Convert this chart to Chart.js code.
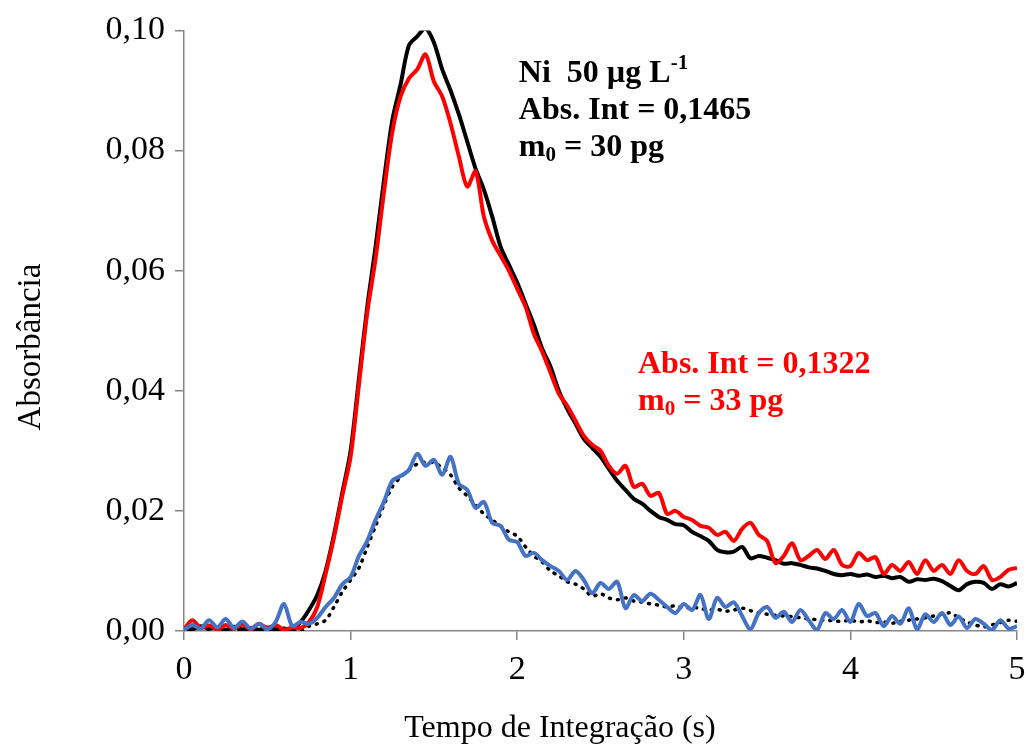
<!DOCTYPE html>
<html>
<head>
<meta charset="utf-8">
<script src="https://cdn.jsdelivr.net/npm/chart.js@4/dist/chart.umd.min.js"></script>
<style>
  html, body { margin: 0; padding: 0; background: #fff; }
  #wrap { width: 1026px; height: 744px; }
</style>
</head>
<body>
<div id="wrap"><canvas id="chart" width="1026" height="744"></canvas></div>
<script>
// --- Data ---
const tempo = [
  0.00, 0.05, 0.10, 0.15, 0.20, 0.25, 0.30, 0.35, 0.40, 0.45,
  0.50, 0.55, 0.60, 0.65, 0.70, 0.75, 0.80, 0.85, 0.90, 0.95,
  1.00, 1.05, 1.10, 1.15, 1.20, 1.25, 1.30, 1.35, 1.40, 1.45,
  1.50, 1.55, 1.60, 1.65, 1.70, 1.75, 1.80, 1.85, 1.90, 1.95,
  2.00, 2.05, 2.10, 2.15, 2.20, 2.25, 2.30, 2.35, 2.40, 2.45,
  2.50, 2.55, 2.60, 2.65, 2.70, 2.75, 2.80, 2.85, 2.90, 2.95,
  3.00, 3.05, 3.10, 3.15, 3.20, 3.25, 3.30, 3.35, 3.40, 3.45,
  3.50, 3.55, 3.60, 3.65, 3.70, 3.75, 3.80, 3.85, 3.90, 3.95,
  4.00, 4.05, 4.10, 4.15, 4.20, 4.25, 4.30, 4.35, 4.40, 4.45,
  4.50, 4.55, 4.60, 4.65, 4.70, 4.75, 4.80, 4.85, 4.90, 4.95,
  5.00
];

// Ni 50 ug/L standard (black)
const padraoNi = [
  0.0005, 0.0003, 0.0008, 0.0004, 0.0006, 0.0002, 0.0007, 0.0003, 0.0005, 0.0002,
  0.0006, 0.0003, 0.0004, 0.0002, 0.0015, 0.0035, 0.0060, 0.0100, 0.0160, 0.0230,
  0.0300, 0.0420, 0.0540, 0.0640, 0.0750, 0.0850, 0.0910, 0.0975, 0.0990, 0.1003,
  0.0980, 0.0935, 0.0900, 0.0860, 0.0815, 0.0770, 0.0735, 0.0690, 0.0640, 0.0610,
  0.0580, 0.0545, 0.0510, 0.0470, 0.0440, 0.0400, 0.0370, 0.0345, 0.0320, 0.0305,
  0.0290, 0.0270, 0.0250, 0.0235, 0.0220, 0.0212, 0.0200, 0.0190, 0.0185, 0.0178,
  0.0176, 0.0165, 0.0158, 0.0150, 0.0135, 0.0131, 0.0132, 0.0140, 0.0121, 0.0125,
  0.0122, 0.0118, 0.0112, 0.0113, 0.0110, 0.0106, 0.0104, 0.0100, 0.0095, 0.0093,
  0.0095, 0.0092, 0.0094, 0.0090, 0.0092, 0.0088, 0.0090, 0.0082, 0.0086, 0.0085,
  0.0087, 0.0083, 0.0075, 0.0068, 0.0078, 0.0082, 0.0080, 0.0070, 0.0078, 0.0074,
  0.0080
];

// sample spiked (red)
const amostraAdicao = [
  0.0003, 0.0018, 0.0005, 0.0009, 0.0003, 0.0010, 0.0004, 0.0011, 0.0003, 0.0012,
  0.0005, 0.0010, 0.0002, 0.0006, 0.0005, 0.0015, 0.0040, 0.0095, 0.0155, 0.0225,
  0.0290, 0.0410, 0.0530, 0.0620, 0.0730, 0.0830, 0.0890, 0.0920, 0.0935, 0.0960,
  0.0915, 0.0890, 0.0845, 0.0790, 0.0740, 0.0765, 0.0690, 0.0650, 0.0625, 0.0600,
  0.0570, 0.0540, 0.0495, 0.0465, 0.0430, 0.0395, 0.0375, 0.0350, 0.0325, 0.0310,
  0.0300, 0.0275, 0.0262, 0.0275, 0.0240, 0.0245, 0.0225, 0.0230, 0.0195, 0.0200,
  0.0190, 0.0185, 0.0175, 0.0172, 0.0160, 0.0165, 0.0150, 0.0170, 0.0180, 0.0160,
  0.0150, 0.0113, 0.0125, 0.0146, 0.0118, 0.0125, 0.0135, 0.0120, 0.0135, 0.0110,
  0.0108, 0.0130, 0.0118, 0.0123, 0.0095, 0.0110, 0.0100, 0.0115, 0.0095, 0.0118,
  0.0100, 0.0110, 0.0095, 0.0118, 0.0100, 0.0095, 0.0108, 0.0085, 0.0090, 0.0102,
  0.0105
];

// sample (blue)
const amostra = [
  0.0002, 0.0010, 0.0004, 0.0018, 0.0006, 0.0020, 0.0005, 0.0016, 0.0004, 0.0012,
  0.0003, 0.0015, 0.0045, 0.0008, 0.0015, 0.0012, 0.0022, 0.0040, 0.0055, 0.0078,
  0.0090, 0.0125, 0.0150, 0.0185, 0.0215, 0.0250, 0.0258, 0.0268, 0.0295, 0.0275,
  0.0285, 0.0260, 0.0290, 0.0245, 0.0235, 0.0205, 0.0215, 0.0180, 0.0175, 0.0152,
  0.0148, 0.0125, 0.0130, 0.0118, 0.0108, 0.0100, 0.0085, 0.0100, 0.0085, 0.0063,
  0.0080, 0.0070, 0.0082, 0.0038, 0.0060, 0.0050, 0.0062, 0.0052, 0.0040, 0.0030,
  0.0045, 0.0035, 0.0060, 0.0020, 0.0055, 0.0040, 0.0048, 0.0025, 0.0003, 0.0030,
  0.0040, 0.0022, 0.0032, 0.0015, 0.0035, 0.0018, 0.0002, 0.0030, 0.0020, 0.0035,
  0.0015, 0.0045, 0.0025, 0.0030, 0.0008, 0.0025, 0.0012, 0.0038, 0.0003, 0.0028,
  0.0015, 0.0030, 0.0010, 0.0024, 0.0005, 0.0020, 0.0012, 0.0002, 0.0018, 0.0004,
  0.0008
];

// reference profile (black dotted)
const perfilRef = [
  0.0004, 0.0002, 0.0006, 0.0003, 0.0005, 0.0002, 0.0004, 0.0001, 0.0005, 0.0002,
  0.0004, 0.0001, 0.0003, 0.0001, 0.0000, 0.0008, 0.0012, 0.0018, 0.0040, 0.0065,
  0.0085, 0.0105, 0.0140, 0.0175, 0.0210, 0.0240, 0.0256, 0.0268, 0.0278, 0.0281,
  0.0280, 0.0272, 0.0260, 0.0238, 0.0225, 0.0210, 0.0195, 0.0185, 0.0175, 0.0165,
  0.0158, 0.0140, 0.0125, 0.0115, 0.0100, 0.0092, 0.0082, 0.0078, 0.0070, 0.0058,
  0.0062, 0.0055, 0.0052, 0.0055, 0.0050, 0.0048, 0.0045, 0.0043, 0.0040, 0.0042,
  0.0038, 0.0040, 0.0037, 0.0035, 0.0036, 0.0033, 0.0035, 0.0038, 0.0034, 0.0030,
  0.0028, 0.0026, 0.0025, 0.0024, 0.0022, 0.0020, 0.0019, 0.0018, 0.0017, 0.0016,
  0.0018, 0.0015, 0.0017, 0.0014, 0.0015, 0.0013, 0.0016, 0.0018, 0.0020, 0.0022,
  0.0025, 0.0028, 0.0030, 0.0022, 0.0015, 0.0010, 0.0007, 0.0010, 0.0014, 0.0018,
  0.0016
];

const xTicks = [0, 1, 2, 3, 4, 5];
const yTicks = [0, 0.02, 0.04, 0.06, 0.08, 0.10];

const FONT = "'Liberation Serif', 'Times New Roman', serif";
const AXIS_GREY = '#868686';

function pontos(valores) {
    return tempo.map((t, i) => ({ x: t, y: valores[i] }));
}

// --- Annotations + axis titles ---
const textPlugin = {
    id: 'chartText',
    afterDraw(chart) {
        const { ctx, scales } = chart;
        ctx.save();
        ctx.textBaseline = 'middle';
        ctx.textAlign = 'left';

        // draws a line made of normal / sup / sub parts
        function rich(x, y, parts, color) {
            ctx.fillStyle = color;
            let cx = x;
            parts.forEach(p => {
                if (p.s === 'sup') {
                    ctx.font = `bold 21px ${FONT}`;
                    ctx.fillText(p.t, cx, y - 10);
                } else if (p.s === 'sub') {
                    ctx.font = `bold 21px ${FONT}`;
                    ctx.fillText(p.t, cx, y + 8);
                } else {
                    ctx.font = `bold 32px ${FONT}`;
                    ctx.fillText(p.t, cx, y);
                }
                cx += ctx.measureText(p.t).width;
            });
        }

        const bx = scales.x.getPixelForValue(2.01);
        const by = scales.y.getPixelForValue(0.0928);
        rich(bx, by, [{ t: 'Ni  50 µg L' }, { t: '-1', s: 'sup' }], '#000');
        rich(bx, by + 37, [{ t: 'Abs. Int = 0,1465' }], '#000');
        rich(bx, by + 74, [{ t: 'm' }, { t: '0', s: 'sub' }, { t: ' = 30 pg' }], '#000');

        const rx = scales.x.getPixelForValue(2.725);
        const ry = scales.y.getPixelForValue(0.0443);
        rich(rx, ry, [{ t: 'Abs. Int = 0,1322' }], '#ff0000');
        rich(rx, ry + 37, [{ t: 'm' }, { t: '0', s: 'sub' }, { t: ' = 33 pg' }], '#ff0000');

        // x axis title (sits left of centre in the original)
        ctx.fillStyle = '#000';
        ctx.textAlign = 'center';
        ctx.textBaseline = 'alphabetic';
        ctx.font = `32px ${FONT}`;
        ctx.fillText('Tempo de Integração (s)', 560, 737);

        // y axis title
        ctx.textBaseline = 'middle';
        ctx.translate(31, 347);
        ctx.rotate(-Math.PI / 2);
        ctx.font = `33px ${FONT}`;
        ctx.fillText('Absorbância', 0, 0);
        ctx.restore();
    }
};

new Chart(document.getElementById('chart'), {
    type: 'line',
    data: {
        datasets: [
            {
                label: 'Amostra',
                data: pontos(amostra),
                borderColor: '#4472c4',
                borderWidth: 4,
                tension: 0.3
            },
            {
                label: 'Amostra + adição',
                data: pontos(amostraAdicao),
                borderColor: '#ff0000',
                borderWidth: 4,
                tension: 0.3
            },
            {
                label: 'Ni 50 µg/L',
                data: pontos(padraoNi),
                borderColor: '#000000',
                borderWidth: 4,
                tension: 0.3
            },
            {
                label: 'Perfil',
                data: pontos(perfilRef),
                borderColor: '#000000',
                borderWidth: 3.5,
                borderDash: [1, 7],
                borderCapStyle: 'round',
                tension: 0.3
            }
        ]
    },
    options: {
        responsive: false,
        animation: false,
        events: [],
        elements: { point: { radius: 0 } },
        layout: { padding: { top: 30, right: 0, left: 0, bottom: 0 } },
        scales: {
            x: {
                type: 'linear',
                min: 0,
                max: 5,
                afterBuildTicks: s => { s.ticks = xTicks.map(v => ({ value: v })); },
                afterFit: s => {
                    s.height = 113;
                    s.paddingLeft = 0;
                    s.paddingRight = 9;
                },
                ticks: {
                    color: '#000',
                    font: { family: FONT, size: 34 },
                    padding: 10,
                    maxRotation: 0
                },
                grid: { drawOnChartArea: false, color: AXIS_GREY, tickLength: 9, lineWidth: 1.5 },
                border: { color: AXIS_GREY, width: 1.5 }
            },
            y: {
                type: 'linear',
                min: 0,
                max: 0.1,
                afterBuildTicks: s => { s.ticks = yTicks.map(v => ({ value: v })); },
                afterFit: s => { s.width = 184; },
                ticks: {
                    color: '#000',
                    font: { family: FONT, size: 34 },
                    padding: 10,
                    callback: v => v.toFixed(2).replace('.', ',')
                },
                grid: { drawOnChartArea: false, color: AXIS_GREY, tickLength: 9, lineWidth: 1.5 },
                border: { color: AXIS_GREY, width: 1.5 }
            }
        },
        plugins: {
            legend: { display: false },
            tooltip: { enabled: false },
            title: { display: false }
        }
    },
    plugins: [textPlugin]
});
</script>
</body>
</html>
